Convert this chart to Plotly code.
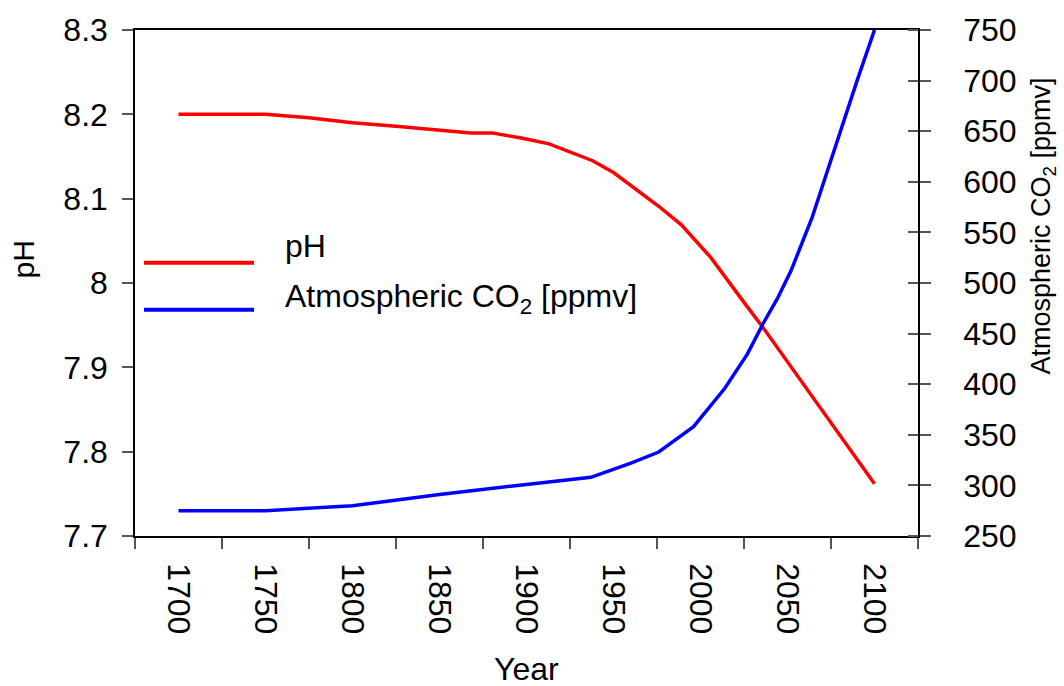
import plotly.graph_objects as go

# Ocean surface pH, historical and projected
ph_years = [1700, 1750, 1775, 1800, 1825, 1850, 1868, 1880, 1897, 1913,
            1938, 1950, 1976, 1989, 2006, 2025, 2036, 2100]
ph_values = [8.200, 8.200, 8.196, 8.190, 8.186, 8.181, 8.178, 8.178, 8.172, 8.165,
             8.145, 8.131, 8.091, 8.069, 8.030, 7.977, 7.947, 7.762]

# Atmospheric CO2 concentration [ppmv]
co2_years = [1700, 1750, 1800, 1850, 1900, 1925, 1937, 1960, 1976, 1996,
             2014, 2027, 2036, 2044, 2052, 2064, 2076, 2090, 2100]
co2_values = [275, 275, 280, 291, 301, 306, 308, 322, 333, 358,
              396, 430, 460, 484, 512, 564, 627, 700, 750]

year_ticks = [1700, 1750, 1800, 1850, 1900, 1950, 2000, 2050, 2100]
year_bounds = [1675, 1725, 1775, 1825, 1875, 1925, 1975, 2025, 2075, 2125]
ph_ticks = [7.7, 7.8, 7.9, 8.0, 8.1, 8.2, 8.3]
ph_ticktext = ["7.7", "7.8", "7.9", "8", "8.1", "8.2", "8.3"]
co2_ticks = [250, 300, 350, 400, 450, 500, 550, 600, 650, 700, 750]

FONT = "Liberation Sans, Arial, sans-serif"
RED = "#ff0000"
BLUE = "#0000ff"
TICK_GREY = "#555555"

fig = go.Figure()
fig.add_trace(go.Scatter(x=ph_years, y=ph_values, mode="lines", name="pH",
                         line=dict(color=RED, width=3.5), yaxis="y", showlegend=False))
fig.add_trace(go.Scatter(x=co2_years, y=co2_values, mode="lines",
                         name="Atmospheric CO2 [ppmv]",
                         line=dict(color=BLUE, width=3.5), yaxis="y2", showlegend=False))

fig.update_layout(
    width=1064, height=686,
    margin=dict(l=135, r=146, t=28, b=150),
    paper_bgcolor="white", plot_bgcolor="white",
    font=dict(family=FONT, size=32, color="black"),
    xaxis=dict(
        range=[1675, 2125], tickmode="array", tickvals=year_ticks,
        ticks="outside", ticklen=11, tickcolor="rgba(0,0,0,0)",
        ticklabelstandoff=8,
        tickangle=90, tickfont=dict(size=32),
        showline=True, linecolor="black", linewidth=1.5, mirror=True,
        showgrid=False, zeroline=False,
        minor=dict(tickmode="array", tickvals=year_bounds, ticks="outside",
                   ticklen=11, tickcolor=TICK_GREY, tickwidth=1.5, showgrid=False),
    ),
    yaxis=dict(
        range=[7.7, 8.3], tickmode="array", tickvals=ph_ticks, ticktext=ph_ticktext,
        ticks="outside", ticklen=11, tickcolor=TICK_GREY, tickwidth=1.5,
        ticklabelstandoff=8,
        tickfont=dict(size=32),
        showline=True, linecolor="black", linewidth=1.5,
        showgrid=False, zeroline=False,
    ),
    yaxis2=dict(
        range=[250, 750], tickmode="array", tickvals=co2_ticks,
        overlaying="y", side="right",
        ticks="outside", ticklen=11, tickcolor=TICK_GREY, tickwidth=1.5,
        ticklabelstandoff=26,
        tickfont=dict(size=32),
        showline=True, linecolor="black", linewidth=1.5,
        showgrid=False, zeroline=False,
        minor=dict(tickmode="array", tickvals=co2_ticks, ticks="inside",
                   ticklen=10, tickcolor=TICK_GREY, tickwidth=1.5, showgrid=False),
    ),
)

# Axis titles
fig.add_annotation(text="Year", xref="paper", yref="paper", x=0.5, y=-0.262,
                   showarrow=False, font=dict(size=32), xanchor="center", yanchor="middle")
fig.add_annotation(text="pH", xref="paper", yref="paper", x=-0.142, y=0.546,
                   textangle=-90, showarrow=False, font=dict(size=30),
                   xanchor="center", yanchor="middle")
fig.add_annotation(text="Atmospheric CO<sub>2</sub> [ppmv]", xref="paper", yref="paper",
                   x=1.16, y=0.612, textangle=-90, showarrow=False, font=dict(size=27),
                   xanchor="center", yanchor="middle")

# Legend: line samples with labels
legend_items = [("pH", RED, 0.540, 0.574), ("Atmospheric CO<sub>2</sub> [ppmv]", BLUE, 0.447, 0.469)]
for label, color, y_line, y_text in legend_items:
    fig.add_shape(type="line", xref="paper", yref="paper",
                  x0=0.0115, x1=0.152, y0=y_line, y1=y_line,
                  line=dict(color=color, width=4))
    fig.add_annotation(text=label, xref="paper", yref="paper", x=0.189, y=y_text,
                       showarrow=False, font=dict(size=32),
                       xanchor="left", yanchor="middle")

fig.write_html("out.html")
